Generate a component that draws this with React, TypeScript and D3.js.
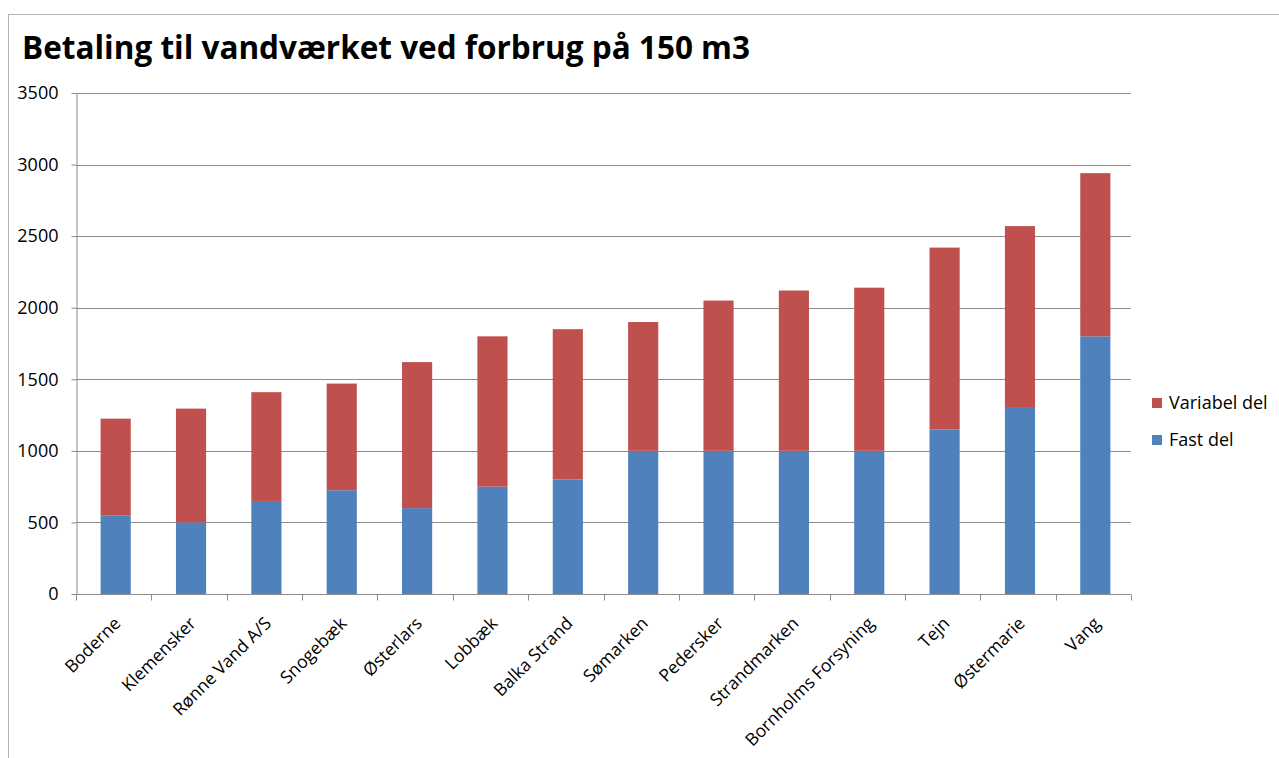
import * as d3 from "d3";
import { useEffect, useRef } from "react";

const categories = [
  "Boderne", "Klemensker", "Rønne Vand A/S", "Snogebæk", "Østerlars", "Lobbæk",
  "Balka Strand", "Sømarken", "Pedersker", "Strandmarken", "Bornholms Forsyning",
  "Tejn", "Østermarie", "Vang",
];
const fastDel = [550, 500, 650, 725, 600, 750, 800, 1000, 1000, 1000, 1000, 1150, 1300, 1800];
const variabelDel = [675, 795, 760, 745, 1020, 1050, 1050, 900, 1050, 1120, 1140, 1270, 1270, 1140];
const yTicks = [0, 500, 1000, 1500, 2000, 2500, 3000, 3500];
const seriesNames = ["Fast del", "Variabel del"];
const colors = ["#4F81BD", "#C0504D"];

const W = 1279;
const H = 758;
const FONT = "'Open Sans', sans-serif";

const App = () => {
  const svgRef = useRef<SVGSVGElement>(null);

  useEffect(() => {
    const svg = d3.select(svgRef.current);
    svg.selectAll("*").remove();

    const margin = { top: 93, right: 148, bottom: 164, left: 76 };
    const innerW = W - margin.left - margin.right;
    const innerH = H - margin.top - margin.bottom;

    svg.append("rect").attr("width", W).attr("height", H).attr("fill", "#fff");

    // spreadsheet frame
    svg.append("line").attr("x1", 8).attr("x2", W).attr("y1", 14.5).attr("y2", 14.5)
      .attr("stroke", "#b4b4b4");
    svg.append("line").attr("x1", 8.5).attr("x2", 8.5).attr("y1", 14).attr("y2", H)
      .attr("stroke", "#b4b4b4");

    svg.append("text")
      .attr("x", 22).attr("y", 59)
      .attr("font-family", FONT).attr("font-weight", "bold").attr("font-size", 31.5)
      .attr("fill", "#000")
      .text("Betaling til vandværket ved forbrug på 150 m3");

    const g = svg.append("g").attr("transform", `translate(${margin.left},${margin.top})`);

    const x = d3.scaleBand().domain(categories).range([0, innerW]).paddingInner(0.6).paddingOuter(0.3);
    const y = d3.scaleLinear().domain([0, 3500]).range([innerH, 0]);

    // gridlines
    g.selectAll(".grid").data(yTicks).join("line")
      .attr("x1", 0).attr("x2", innerW)
      .attr("y1", (d) => Math.round(y(d)) + 0.5).attr("y2", (d) => Math.round(y(d)) + 0.5)
      .attr("stroke", "#8c8c8c");

    const rows = categories.map((c, i) => ({ cat: c, fast: fastDel[i], variabel: variabelDel[i] }));
    const stack = d3.stack<any>().keys(["fast", "variabel"])(rows);

    g.selectAll(".series").data(stack).join("g")
      .attr("fill", (_d, i) => colors[i])
      .selectAll("rect").data((d) => d).join("rect")
      .attr("x", (d) => x(d.data.cat)! + 2)
      .attr("width", x.bandwidth())
      .attr("y", (d) => y(d[1]))
      .attr("height", (d) => y(d[0]) - y(d[1]));

    // y axis
    const yAxis = d3.axisLeft(y).tickValues(yTicks).tickFormat(d3.format("d"))
      .tickSize(5).tickSizeOuter(0).tickPadding(13);
    const ya = g.append("g").attr("transform", "translate(0.5,0)").call(yAxis);
    ya.selectAll("line, path").attr("stroke", "#8c8c8c");
    ya.selectAll("text").attr("font-family", FONT).attr("font-size", 18).attr("fill", "#000");

    // x axis with ticks at band boundaries
    const xa = g.append("g").attr("transform", `translate(0,${Math.round(innerH) + 0.5})`);
    xa.append("line").attr("x1", 0).attr("x2", innerW).attr("stroke", "#8c8c8c");
    const step = x.step();
    const boundaries = d3.range(categories.length + 1).map((i) => i * step);
    xa.selectAll(".xt").data(boundaries).join("line")
      .attr("x1", (d) => Math.round(d) + 0.5).attr("x2", (d) => Math.round(d) + 0.5)
      .attr("y1", 0).attr("y2", 6).attr("stroke", "#8c8c8c");
    xa.selectAll(".xl").data(categories).join("text")
      .attr("transform", (d) => `translate(${x(d)! + x.bandwidth() / 2 + 8},${30}) rotate(-45)`)
      .attr("text-anchor", "end")
      .attr("font-family", FONT).attr("font-size", 17.5).attr("fill", "#000")
      .text((d) => d);

    // legend
    const legend = svg.append("g").attr("transform", "translate(1152,0)");
    const legendItems = [
      { name: seriesNames[1], color: colors[1], y: 403 },
      { name: seriesNames[0], color: colors[0], y: 440 },
    ];
    legendItems.forEach((it) => {
      legend.append("rect").attr("x", 0).attr("y", it.y - 5).attr("width", 10).attr("height", 10)
        .attr("fill", it.color);
      legend.append("text").attr("x", 17).attr("y", it.y).attr("dy", "0.35em")
        .attr("font-family", FONT).attr("font-size", 18).attr("fill", "#000")
        .text(it.name);
    });
  }, []);

  return (
    <svg ref={svgRef} width={W} height={H}
      style={{ position: "absolute", left: 0, top: 0, display: "block" }} />
  );
};

export default App;
